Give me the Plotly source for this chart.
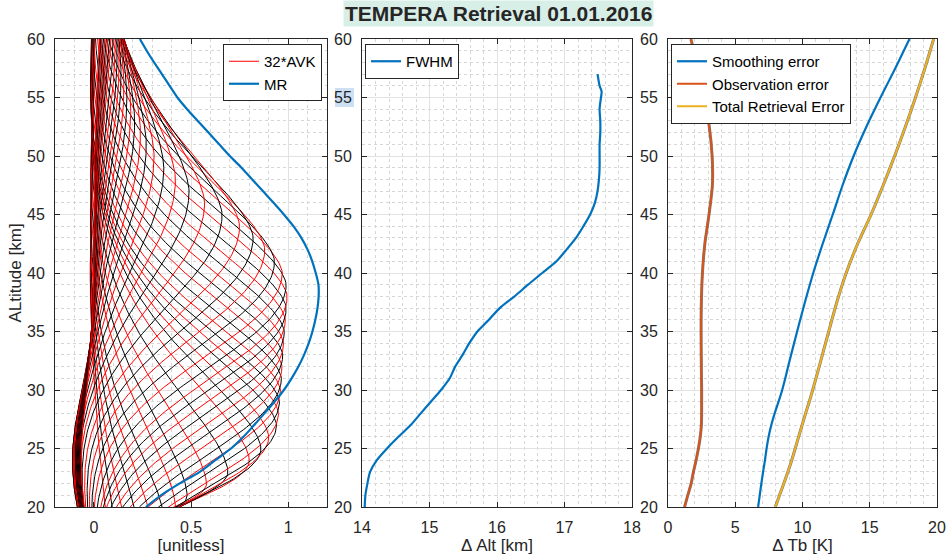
import numpy as np
import plotly.graph_objects as go

# ---------------- data ----------------
# Averaging kernels (one per retrieval level, 1 km spacing), described per kernel
kernel_levels = list(range(14, 71))
kernel_amp = [0.09, 0.13, 0.18, 0.24, 0.30, 0.36,
              0.42, 0.48, 0.58, 0.69, 0.80, 0.86, 0.90, 0.94, 0.95, 0.955,
              0.96, 0.965, 0.968, 0.972, 0.976, 0.98, 0.985, 0.99, 0.995, 0.99,
              0.97, 0.93, 0.88, 0.82, 0.75, 0.66, 0.57, 0.49, 0.42, 0.36,
              0.31, 0.27, 0.24, 0.21, 0.19, 0.17, 0.155, 0.14, 0.13, 0.12,
              0.11, 0.10, 0.09, 0.085, 0.08, 0.075, 0.07, 0.065, 0.06, 0.055, 0.05]
kernel_low_hw = [2.8] * 8 + [2.9, 3.6, 4.3, 5.1, 5.9, 6.5, 7.0, 7.3] + \
                [7.5, 7.7, 7.8, 7.9, 8.0, 8.05, 8.1, 8.15, 8.2, 8.25] + \
                [8.3, 8.4, 8.5, 8.6, 8.7, 8.8, 8.9, 9.0, 9.1, 9.2] + \
                [9.3, 9.4, 9.5, 9.6, 9.7, 9.8, 9.9, 10.0, 10.1, 10.2] + \
                [10.3, 10.4, 10.5, 10.6, 10.7, 10.8, 10.9, 11.0, 11.1, 11.2, 11.3]
kernel_up_hw = [8.0] * 6 + \
               [9.0, 9.0, 9.0, 9.0, 9.0, 8.8, 8.5, 8.2, 8.0, 7.8] + \
               [7.7, 7.7, 7.8, 7.8, 7.9, 8.0, 8.1, 8.2, 8.3, 8.4] + \
               [8.5, 8.5, 8.6, 8.7, 8.8, 9.0, 9.2, 9.4, 9.5, 9.7] + \
               [10.0, 10.2, 10.4, 10.6, 10.8, 11.0, 11.2, 11.4, 11.6, 11.8] + \
               [12.0, 12.1, 12.2, 12.3, 12.4, 12.5, 12.6, 12.7, 12.8, 12.9, 13.0]
kernel_neg_low = [0.0] * 25 + \
                 [0.01, 0.02, 0.03, 0.04, 0.05, 0.06, 0.07, 0.075, 0.08, 0.085, 0.09] + \
                 [0.095, 0.10, 0.105, 0.11, 0.11, 0.11, 0.105, 0.10, 0.10, 0.095] + \
                 [0.09, 0.09, 0.085, 0.085, 0.08, 0.08, 0.075, 0.075, 0.07, 0.07, 0.065]
kernel_neg_up = [0.02] * 6 + [0.025] * 10 + [0.02, 0.018, 0.015, 0.012, 0.01, 0.005] + [0.0] * 35

# Measurement response
mr_alt = list(range(20, 61))
mr_val = [0.268, 0.345, 0.44, 0.545, 0.625, 0.706, 0.77, 0.825, 0.878, 0.93,
          0.978, 1.018, 1.053, 1.082, 1.106, 1.125, 1.14, 1.151, 1.157, 1.156,
          1.142, 1.124, 1.10, 1.068, 1.027, 0.978, 0.925, 0.87, 0.815, 0.76,
          0.70, 0.645, 0.59, 0.535, 0.48, 0.43, 0.39, 0.35, 0.31, 0.272, 0.237]

# FWHM (vertical resolution)
fwhm_alt = [20, 21, 22, 23, 24, 25, 26, 27, 28, 29, 30, 31, 32, 33, 34, 35, 36, 37, 38,
            39, 40, 41, 42, 43, 44, 45, 46, 47, 48, 49, 50, 51, 52, 53, 54, 55, 55.5, 56, 57]
fwhm_val = [14.04, 14.05, 14.08, 14.12, 14.22, 14.37, 14.54, 14.72, 14.87, 15.02,
            15.17, 15.3, 15.38, 15.49, 15.59, 15.71, 15.88, 16.04, 16.26,
            16.46, 16.67, 16.88, 17.03, 17.17, 17.28, 17.38, 17.45, 17.49, 17.51,
            17.52, 17.52, 17.52, 17.53, 17.53, 17.52, 17.54, 17.55, 17.52, 17.49]

# Errors
err_alt = [20, 21, 22, 23, 24, 25, 26, 27, 28, 29, 30, 31, 32,
           35, 37.5, 40, 42.5, 45, 47.5, 50, 52.5, 55, 57.5, 60]
smooth_err = [6.70, 6.82, 6.94, 7.07, 7.21, 7.33, 7.48, 7.68, 7.93, 8.22, 8.49, 8.72, 8.93,
              9.60, 10.18, 10.80, 11.50, 12.25, 12.98, 13.80, 14.75, 15.80, 16.90, 17.95]
obs_err = [1.23, 1.47, 1.72, 1.89, 2.09, 2.26, 2.40, 2.48, 2.50, 2.50, 2.50, 2.49, 2.48,
           2.46, 2.48, 2.56, 2.74, 3.05, 3.30, 3.28, 3.07, 2.70, 2.25, 1.70]
total_err = [7.98, 8.29, 8.61, 8.91, 9.20, 9.46, 9.71, 9.97, 10.23, 10.50, 10.76, 11.0, 11.24,
             11.95, 12.55, 13.25, 14.10, 15.10, 16.00, 16.85, 17.65, 18.40, 19.10, 19.75]

# ---------------- build kernels from the read parameters ----------------
LN2 = np.log(2.0)
z = np.arange(19.0, 61.01, 0.2)


def kernel_curve(c, a, hl, hu, nlo, nup):
    d = z - c
    lower = a * np.exp(-LN2 * (np.abs(d) / hl) ** 2)
    upper = a * np.exp(-LN2 * (np.abs(d) / hu) ** 1.6)
    k = np.where(d < 0, lower, upper)
    k = k - nlo * np.exp(-((z - 24.0) / 8.0) ** 2)
    k = k - nup * np.exp(-((z - (c + 25.0)) / 8.0) ** 2)
    return k


FONT = "Liberation Sans, Arial, Helvetica, sans-serif"
TXT = "#262626"
BLUE = "#0072BD"
ORANGE = "#D95319"
YELLOW = "#EDB120"

fig = go.Figure()

for i, lev in enumerate(kernel_levels):
    col = "#FF0000" if i % 2 == 0 else "#000000"
    k = kernel_curve(lev, kernel_amp[i], kernel_low_hw[i], kernel_up_hw[i],
                     kernel_neg_low[i], kernel_neg_up[i])
    fig.add_trace(go.Scatter(x=k, y=z, mode="lines",
                             line=dict(color=col, width=1),
                             name="32*AVK", showlegend=(i == 0),
                             legend="legend", xaxis="x", yaxis="y",
                             hoverinfo="skip"))

fig.add_trace(go.Scatter(x=mr_val, y=mr_alt, mode="lines",
                         line=dict(color=BLUE, width=2.2, shape="spline", smoothing=0.8),
                         name="MR", legend="legend", xaxis="x", yaxis="y"))

fig.add_trace(go.Scatter(x=fwhm_val, y=fwhm_alt, mode="lines",
                         line=dict(color=BLUE, width=2.2, shape="spline", smoothing=0.8),
                         name="FWHM", legend="legend2", xaxis="x2", yaxis="y2"))

# error panel (thin dark edges under the orange and yellow lines)
SPL = dict(shape="spline", smoothing=0.7)
fig.add_trace(go.Scatter(x=obs_err, y=err_alt, mode="lines",
                         line=dict(color="rgba(70,70,70,0.7)", width=3, **SPL),
                         showlegend=False, xaxis="x3", yaxis="y3", hoverinfo="skip"))
fig.add_trace(go.Scatter(x=total_err, y=err_alt, mode="lines",
                         line=dict(color="rgba(70,70,70,0.7)", width=3, **SPL),
                         showlegend=False, xaxis="x3", yaxis="y3", hoverinfo="skip"))
fig.add_trace(go.Scatter(x=smooth_err, y=err_alt, mode="lines", line=dict(color=BLUE, width=2.2, **SPL),
                         name="Smoothing error", legend="legend3", xaxis="x3", yaxis="y3"))
fig.add_trace(go.Scatter(x=obs_err, y=err_alt, mode="lines", line=dict(color=ORANGE, width=2, **SPL),
                         name="Observation error", legend="legend3", xaxis="x3", yaxis="y3"))
fig.add_trace(go.Scatter(x=total_err, y=err_alt, mode="lines", line=dict(color=YELLOW, width=2, **SPL),
                         name="Total Retrieval Error", legend="legend3", xaxis="x3", yaxis="y3"))

# ---------------- layout ----------------
# page body margin is removed (post_script below), so screen px == figure px
OFF = 0
W, H = 950 - OFF, 556 - OFF
ML, MR_, MT, MB = 55 - OFF, 13, 39 - OFF, 49
PW, PH = W - ML - MR_, H - MT - MB


def px2x(px):
    return (px - OFF - ML) / PW


def py2y(py):
    return (H - MB - (py - OFF)) / PH


def axis_common(**kw):
    d = dict(showline=True, linecolor=TXT, linewidth=1, mirror="ticks",
             ticks="inside", ticklen=5, tickcolor=TXT, tickwidth=1,
             tickfont=dict(family=FONT, size=16, color=TXT),
             showgrid=True, gridcolor="#e2e2e2", gridwidth=1, zeroline=False,
             automargin=False,
             title_font=dict(family=FONT, size=17, color=TXT))
    d.update(kw)
    return d


yticks = [20, 25, 30, 35, 40, 45, 50, 55, 60]
ymin = dict(dtick=1, showgrid=True, gridcolor="#d6d6d6", griddash="dot", ticks="")

layout = dict(
    width=W, height=H, paper_bgcolor="white", plot_bgcolor="white",
    margin=dict(l=ML, r=MR_, t=MT, b=MB, autoexpand=False),
    font=dict(family=FONT, color=TXT),
    xaxis=axis_common(domain=[px2x(55), px2x(327)], range=[-0.2, 1.2],
                      tickvals=[0, 0.5, 1], ticktext=["0", "0.5", "1"],
                      minor=dict(dtick=0.1, tick0=0, showgrid=True, gridcolor="#d6d6d6", griddash="dot", ticks=""),
                      title=dict(text="[unitless]", standoff=3), anchor="y", ticklabelstandoff=6),
    yaxis=axis_common(domain=[0, 1], range=[20, 60], tickvals=yticks, minor=ymin,
                      title=dict(text="ALtitude [km]", standoff=1), anchor="x", ticklabelstandoff=6),
    xaxis2=axis_common(domain=[px2x(362), px2x(632)], range=[14, 18],
                       tickvals=[14, 15, 16, 17, 18],
                       minor=dict(dtick=0.2, tick0=14, showgrid=True, gridcolor="#d6d6d6", griddash="dot", ticks=""),
                       title=dict(text="Δ Alt [km]", standoff=3), anchor="y2", ticklabelstandoff=6),
    yaxis2=axis_common(domain=[0, 1], range=[20, 60], tickvals=yticks, minor=ymin,
                       anchor="x2", ticklabelstandoff=6),
    xaxis3=axis_common(domain=[px2x(668), px2x(937)], range=[0, 20],
                       tickvals=[0, 5, 10, 15, 20],
                       minor=dict(dtick=1, tick0=0, showgrid=True, gridcolor="#d6d6d6", griddash="dot", ticks=""),
                       title=dict(text="Δ Tb [K]", standoff=3), anchor="y3", ticklabelstandoff=6),
    yaxis3=axis_common(domain=[0, 1], range=[20, 60], tickvals=yticks, minor=ymin,
                       anchor="x3", ticklabelstandoff=6),
)

legend_style = dict(bgcolor="white", bordercolor=TXT, borderwidth=1,
                    font=dict(family=FONT, size=15, color="#000000"),
                    yanchor="top", itemwidth=30, tracegroupgap=0)
layout["legend"] = dict(x=px2x(322), y=py2y(44), xanchor="right", **legend_style)
layout["legend2"] = dict(x=px2x(365), y=py2y(44), xanchor="left", **legend_style)
layout["legend3"] = dict(x=px2x(671), y=py2y(44), xanchor="left", **legend_style)

layout["annotations"] = [dict(
    text="<b>TEMPERA Retrieval 01.01.2016</b>", xref="paper", yref="paper",
    x=px2x(498), y=py2y(14), xanchor="center", yanchor="middle", showarrow=False,
    font=dict(family=FONT, size=21, color=TXT), bgcolor="#d8efe8", borderpad=1)]

layout["shapes"] = [dict(type="rect", xref="paper", yref="paper", layer="below",
                         x0=px2x(335), x1=px2x(354), y0=py2y(107), y1=py2y(88),
                         fillcolor="#cddff2", line=dict(width=0))]

fig.update_layout(**layout)
fig.write_html("out.html", config={"displayModeBar": False},
               post_script="document.body.style.margin='0px';document.body.style.overflow='hidden';")
